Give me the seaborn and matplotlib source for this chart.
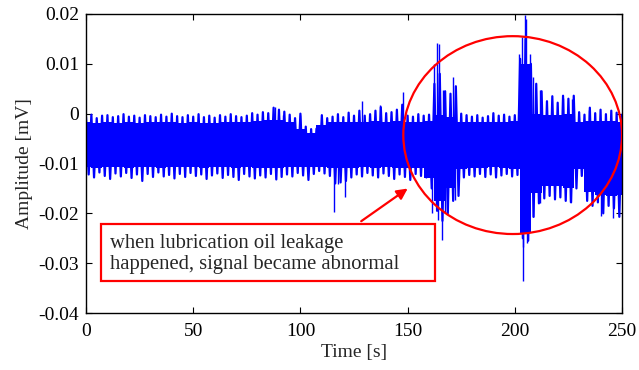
import matplotlib
matplotlib.use("Agg")
import matplotlib.pyplot as plt
from matplotlib.patches import Ellipse, Rectangle
import numpy as np
import pandas as pd
import seaborn as sns

# signal envelope, one value every 2.5 s
grid_t = np.arange(0, 250.1, 2.5)
peak_hi = [
    -0.0006, -0.0002, -0.0009, -0.0004, -0.0003, -0.0007, -0.0005, -0.0001, -0.0006, -0.0004,
    -0.0008, -0.0003, -0.0005, -0.0007, -0.0002, -0.0006, 0.0000, -0.0005, -0.0007, -0.0003,
    -0.0006, -0.0001, -0.0007, -0.0004, -0.0008, -0.0003, -0.0006, -0.0001, -0.0005, -0.0007,
    -0.0004, 0.0001, -0.0002, 0.0003, 0.0001, 0.0012, 0.0008, 0.0004, -0.0002, -0.0009,
    0.0000, -0.0026, -0.0031, -0.0030, -0.0003, -0.0009, -0.0006, -0.0001, -0.0007, 0.0002,
    -0.0004, 0.0006, -0.0004, -0.0001, 0.0006, 0.0013, 0.0001, 0.0003, 0.0008, 0.0018,
    -0.0004, -0.0006, -0.0001, -0.0004, -0.0002, 0.0060, 0.0080, 0.0045, 0.0040, 0.0055,
    0.0000, -0.0003, -0.0006, -0.0003, -0.0008, -0.0005, 0.0001, -0.0004, -0.0002, -0.0006,
    -0.0003, 0.0110, 0.0150, 0.0100, 0.0060, 0.0045, 0.0025, 0.0035, 0.0022, 0.0036,
    0.0030, 0.0036, 0.0003, -0.0002, 0.0012, 0.0001, 0.0008, -0.0001, 0.0006, 0.0002,
    -0.0002,
]
peak_lo = [
    -0.0122, -0.0128, -0.0118, -0.0125, -0.0131, -0.0120, -0.0126, -0.0119, -0.0129, -0.0122,
    -0.0135, -0.0121, -0.0127, -0.0118, -0.0126, -0.0123, -0.0130, -0.0121, -0.0127, -0.0119,
    -0.0125, -0.0122, -0.0131, -0.0124, -0.0120, -0.0129, -0.0123, -0.0127, -0.0133, -0.0121,
    -0.0126, -0.0130, -0.0124, -0.0128, -0.0121, -0.0132, -0.0127, -0.0122, -0.0126, -0.0119,
    -0.0124, -0.0133, -0.0121, -0.0115, -0.0120, -0.0125, -0.0140, -0.0138, -0.0135, -0.0128,
    -0.0122, -0.0126, -0.0119, -0.0124, -0.0128, -0.0120, -0.0125, -0.0131, -0.0122, -0.0127,
    -0.0133, -0.0121, -0.0125, -0.0128, -0.0150, -0.0195, -0.0215, -0.0200, -0.0175, -0.0165,
    -0.0128, -0.0123, -0.0126, -0.0121, -0.0127, -0.0122, -0.0128, -0.0124, -0.0121, -0.0126,
    -0.0123, -0.0250, -0.0255, -0.0207, -0.0180, -0.0170, -0.0165, -0.0172, -0.0168, -0.0175,
    -0.0178, -0.0150, -0.0125, -0.0175, -0.0185, -0.0178, -0.0200, -0.0185, -0.0190, -0.0207,
    -0.0180,
]

# dense core of the band, every 5 s
core_t = np.arange(0, 250.1, 5)
core_hi = [
    -0.0017, -0.0018, -0.0017, -0.0018, -0.0017, -0.0018, -0.0017, -0.0017, -0.0017, -0.0018,
    -0.0017, -0.0018, -0.0018, -0.0017, -0.0017, -0.0016, -0.0015, -0.0013, -0.0013, -0.0017,
    -0.0030, -0.0038, -0.0022, -0.0017, -0.0016, -0.0016, -0.0016, -0.0015, -0.0016, -0.0015,
    -0.0017, -0.0017, -0.0014, -0.0002, -0.0006, -0.0016, -0.0017, -0.0017, -0.0017, -0.0017,
    -0.0014, 0.0100, -0.0001, -0.0003, -0.0003, -0.0001, -0.0016, -0.0014, -0.0014, -0.0014,
    -0.0016,
]
core_lo = [
    -0.0108, -0.0109, -0.0108, -0.0107, -0.0109, -0.0108, -0.0108, -0.0109, -0.0108, -0.0107,
    -0.0108, -0.0109, -0.0108, -0.0108, -0.0109, -0.0108, -0.0109, -0.0110, -0.0109, -0.0108,
    -0.0108, -0.0107, -0.0108, -0.0110, -0.0110, -0.0109, -0.0108, -0.0109, -0.0108, -0.0109,
    -0.0110, -0.0110, -0.0130, -0.0175, -0.0150, -0.0112, -0.0109, -0.0109, -0.0108, -0.0109,
    -0.0112, -0.0240, -0.0160, -0.0145, -0.0145, -0.0150, -0.0112, -0.0158, -0.0163, -0.0166,
    -0.0163,
]

# single tall spikes
spike_t = [88, 92, 100, 115.7, 117.5, 121, 128.7, 137, 148, 161.5, 162.3, 163.5, 164.5,
           164.3, 166, 166.5, 167.5, 171, 172, 202, 203.4, 203.6, 204.0, 204.8, 205.3,
           205.7, 207, 208.5, 208.5, 211.7, 211.7, 222.5, 225.7, 226.6, 234.6, 240, 246]
spike_v = [0.0013, -0.0003, -0.0003, -0.0198, -0.0142, -0.0167, 0.0025, 0.0017, 0.0043,
           -0.0200, 0.0100, 0.0142, 0.0140, -0.0213, -0.0254, 0.0047, -0.0200, 0.0073,
           -0.0173, 0.0120, 0.0154, -0.0335, -0.0268, 0.0198, 0.0190, -0.0260, 0.0120,
           0.0073, -0.0207, 0.0047, -0.0180, 0.0032, -0.0177, 0.0030, 0.0008, -0.0205,
           -0.0210]

x_ticks = [0, 50, 100, 150, 200, 250]
y_ticks = [0.02, 0.01, 0, -0.01, -0.02, -0.03, -0.04]
y_labels = ["0.02", "0.01", "0", "-0.01", "-0.02", "-0.03", "-0.04"]

sns.set_style("ticks")
plt.rcParams["font.family"] = ["Liberation Serif", "DejaVu Serif"]
plt.rcParams["axes.unicode_minus"] = False

fig = plt.figure(figsize=(6.39, 3.70), dpi=100)
ax = fig.add_axes([0.1346, 0.154, 0.8388, 0.8082])

blue = "#0000ff"
red = "#ff0000"

ax.fill_between(core_t, core_lo, core_hi, step="mid", color=blue, lw=0)

zig = pd.DataFrame({
    "t": np.column_stack([grid_t, grid_t + 1.25]).ravel(),
    "v": np.column_stack([peak_hi, peak_lo]).ravel(),
})
sns.lineplot(data=zig, x="t", y="v", estimator=None, sort=False, color=blue, lw=1.6, ax=ax)

ax.vlines(spike_t, -0.0065, spike_v, color=blue, lw=1.0)

# annotations
ax.add_patch(Ellipse((199, -0.0043), 102, 0.0397, fill=False, edgecolor=red, lw=1.6, zorder=5))
ax.add_patch(Rectangle((7, -0.0336), 155.8, 0.01146, fill=True, facecolor="white",
                       edgecolor=red, lw=1.6, zorder=5))
ax.text(11.2, -0.0281, "when lubrication oil leakage\nhappened, signal became abnormal",
        ha="left", va="center", fontsize=14.9, linespacing=1.12, zorder=6)
ax.annotate("", xy=(151.1, -0.0147), xytext=(127.3, -0.0219),
            arrowprops=dict(arrowstyle="-|>", color=red, lw=1.6, mutation_scale=16),
            zorder=6)

ax.set_xlim(0, 250)
ax.set_ylim(-0.04, 0.02)
ax.set_xticks(x_ticks)
ax.set_yticks(y_ticks)
ax.set_yticklabels(y_labels)
ax.tick_params(direction="in", top=True, right=True, length=4, width=0.8,
               labelsize=14, colors="black", pad=5)
ax.tick_params(axis="x", pad=7)
for s in ax.spines.values():
    s.set_visible(True)
    s.set_color("black")
    s.set_linewidth(1.0)
ax.set_xlabel("Time [s]", fontsize=14, labelpad=3)
ax.set_ylabel("Amplitude [mV]", fontsize=14, labelpad=4)

fig.savefig("out.png", dpi=100)
